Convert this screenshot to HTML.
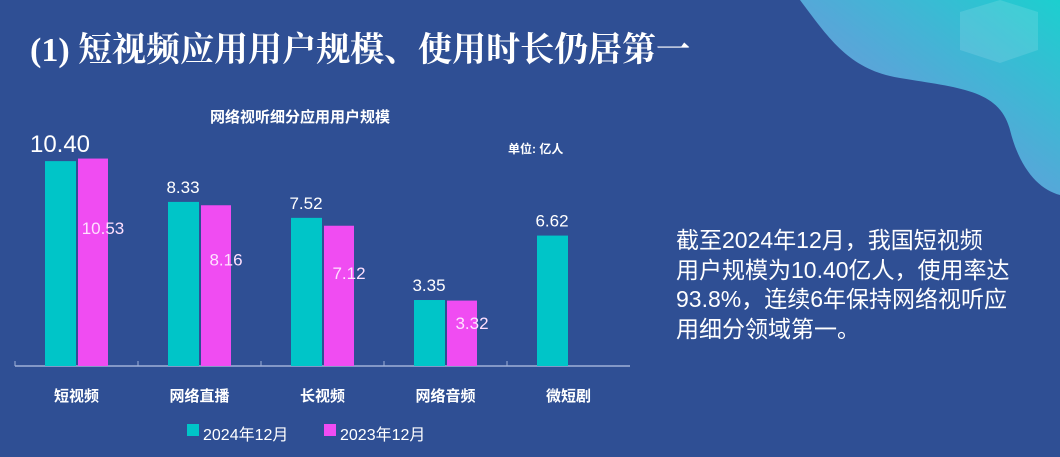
<!DOCTYPE html>
<html><head><meta charset="utf-8"><style>
body{margin:0;width:1060px;height:457px;overflow:hidden;background:#2f4f94;font-family:"Liberation Sans","Noto Sans CJK SC",sans-serif;}
#wrap{position:relative;width:1060px;height:457px;}
.t{position:absolute;color:#fff;white-space:nowrap;}
</style></head><body>
<div id="wrap">
<svg width="1060" height="457" style="position:absolute;left:0;top:0">
<defs><linearGradient id="g" x1="0" y1="1" x2="1" y2="0"><stop offset="0" stop-color="#8a8fe0"/><stop offset="0.5" stop-color="#55a8d8"/><stop offset="1" stop-color="#1ccfcf"/></linearGradient></defs>
<path d="M800,0 C830,40 850,70 900,78 C960,88 1000,90 1010,130 C1020,170 1040,190 1060,195 L1060,0 Z" fill="url(#g)"/>
<path d="M960,12 L1000,0 L1038,12 L1038,50 L1000,63 L960,50 Z" fill="#ffffff" opacity="0.12"/>
</svg>
<div class="t" style="left:30px;top:22px;font-size:34px;font-family:'Liberation Serif','Noto Serif CJK SC',serif;font-weight:bold;">(1) 短视频应用用户规模、使用时长仍居第一</div>
<div class="t" style="left:210px;top:106px;font-size:15px;font-weight:bold;">网络视听细分应用用户规模</div>
<div class="t" style="left:508px;top:140px;font-size:12px;font-weight:bold;">单位: 亿人</div>
<div class="t" style="left:676px;top:226px;font-size:23px;line-height:29.5px;">截至2024年12月，我国短视频<br>用户规模为10.40亿人，使用率达<br>93.8%，连续6年保持网络视听应<br>用细分领域第一。</div>
<svg id="chart" width="1060" height="457" style="position:absolute;left:0;top:0"></svg>
</div>
<script>
const categories=["短视频","网络直播","长视频","网络音频","微短剧"];
const s2024=[10.40,8.33,7.52,3.35,6.62];
const s2023=[10.53,8.16,7.12,3.32,null];
const legendLabels=["2024年12月","2023年12月"];
const NS="http://www.w3.org/2000/svg";
const svg=document.getElementById('chart');
const base=366,left=15,band=123,ppu=19.7;
const y=v=>base-v*ppu;
function mk(tag,attrs,txt){const e=document.createElementNS(NS,tag);for(const k in attrs)e.setAttribute(k,attrs[k]);if(txt!=null)e.textContent=txt;svg.appendChild(e);return e;}
let ax=mk('line',{x1:left,x2:left+band*categories.length,y1:base,y2:base,stroke:'#9fb0d8','stroke-width':1.5});


categories.forEach((c,i)=>{
 const x0=left+band*i;
 let tk=mk('line',{x1:x0,x2:x0,y1:base-5,y2:base,stroke:'#9fb0d8'});
 
 
 let lb=mk('text',{x:x0+band/2,y:base+35,fill:'#fff','font-size':15,'font-weight':'bold','text-anchor':'middle'},c);
 
 
 const v1=s2024[i];
 if(v1!=null){
  let b=mk('rect',{x:x0+30,y:y(v1),width:31,height:base-y(v1),fill:'#00c5c8'});
  
  
  let t=mk('text',{x:x0+45,y:y(v1)-9,fill:'#fff','font-size':i==0?24:17,'text-anchor':'middle'},v1.toFixed(2));
  
  
 }
 const v2=s2023[i];
 if(v2!=null){
  const h=base-y(v2);
  let b=mk('rect',{x:x0+63,y:y(v2),width:30,height:h,fill:'#f04cf2'});
  
  
  let t=mk('text',{x:x0+88,y:y(v2)+h*0.33+7,fill:'#ffe0ff','font-size':17,'text-anchor':'middle'},v2.toFixed(2));
  
  
 }
});
const lc=['#00c5c8','#f04cf2'],lx=[187,324];
legendLabels.forEach((l,i)=>{
 let r=mk('rect',{x:lx[i],y:424,width:12,height:12,fill:lc[i]});
 
 
 let t=mk('text',{x:lx[i]+16,y:440,fill:'#fff','font-size':16},l);
 
 
});
</script>
</body></html>
